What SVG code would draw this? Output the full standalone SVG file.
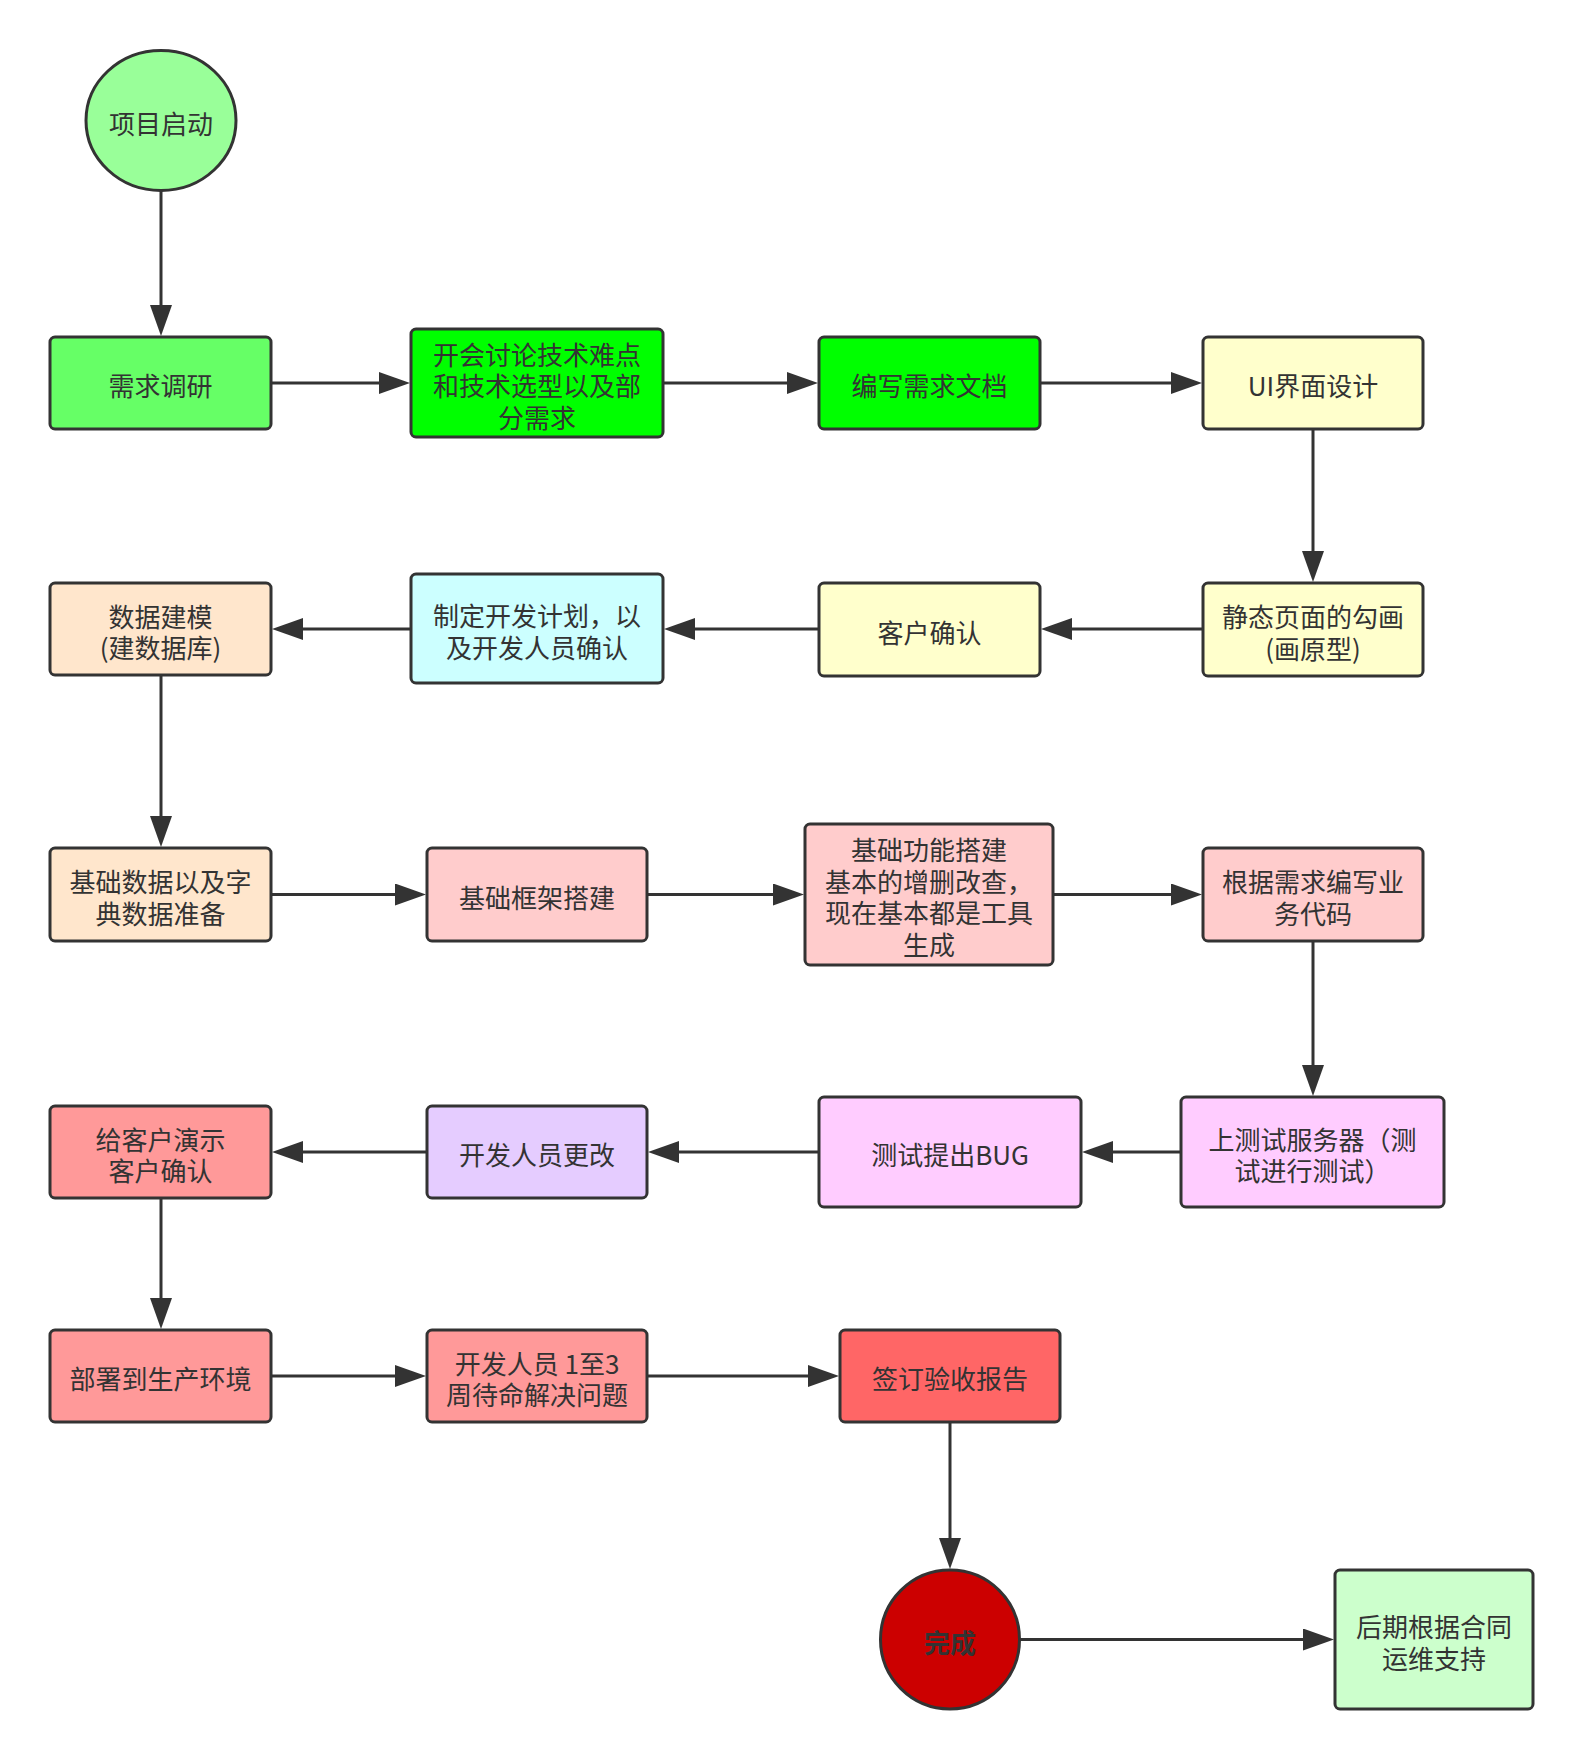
<svg xmlns="http://www.w3.org/2000/svg" width="1584" height="1760" viewBox="0 0 1584 1760">
  <defs>
    <style>
      .node { stroke: #333333; stroke-width: 3; }
      .lbl { font-family: "Noto Sans CJK SC", "Noto Sans", sans-serif; font-size: 26px; fill: #333333; text-anchor: middle; }
      .bold { font-weight: bold; }
      .edge { fill: none; stroke: #333333; stroke-width: 3; marker-end: url(#arrow); }
    </style>
    <marker id="arrow" viewBox="0 0 31 22" refX="21" refY="11" markerWidth="31" markerHeight="22" markerUnits="userSpaceOnUse" orient="auto">
      <path d="M0,0 L31,11 L0,22 Z" fill="#333333"/>
    </marker>
  </defs>
  <rect width="1584" height="1760" fill="#ffffff"/>

  <!-- connectors: path ends sit 10px short of the target edge, the arrow tip reaches it -->
  <g id="connectors">
    <path class="edge" d="M161,191 L161,326"/>
    <path class="edge" d="M272,383 L400,383"/>
    <path class="edge" d="M664,383 L808,383"/>
    <path class="edge" d="M1041,383 L1192,383"/>
    <path class="edge" d="M1313,430 L1313,572"/>
    <path class="edge" d="M1202,629 L1051,629"/>
    <path class="edge" d="M818,629 L674,629"/>
    <path class="edge" d="M410,629 L282,629"/>
    <path class="edge" d="M161,676 L161,837"/>
    <path class="edge" d="M272,894.5 L416,894.5"/>
    <path class="edge" d="M648,894.5 L794,894.5"/>
    <path class="edge" d="M1054,894.5 L1192,894.5"/>
    <path class="edge" d="M1313,942 L1313,1086"/>
    <path class="edge" d="M1180,1152 L1092,1152"/>
    <path class="edge" d="M818,1152 L658,1152"/>
    <path class="edge" d="M426,1152 L282,1152"/>
    <path class="edge" d="M161,1199 L161,1319"/>
    <path class="edge" d="M272,1376 L416,1376"/>
    <path class="edge" d="M648,1376 L829,1376"/>
    <path class="edge" d="M950,1423 L950,1559"/>
    <path class="edge" d="M1020,1639.5 L1324,1639.5"/>
  </g>

  <!-- row 1 -->
  <g id="start">
    <ellipse class="node" cx="161" cy="120.5" rx="75" ry="70" fill="#99FF99"/>
    <text class="lbl" x="161" y="133.5">项目启动</text>
  </g>
  <g id="research">
    <rect class="node" x="50" y="337" width="221" height="92" rx="5" fill="#66FF66"/>
    <text class="lbl" x="160.5" y="396">需求调研</text>
  </g>
  <g id="meeting">
    <rect class="node" x="411" y="329" width="252" height="108" rx="5" fill="#00FF00"/>
    <text class="lbl" x="537" y="364.5">开会讨论技术难点<tspan x="537" dy="31.5">和技术选型以及部</tspan><tspan x="537" dy="31.5">分需求</tspan></text>
  </g>
  <g id="req-doc">
    <rect class="node" x="819" y="337" width="221" height="92" rx="5" fill="#00FF00"/>
    <text class="lbl" x="929.5" y="396">编写需求文档</text>
  </g>
  <g id="ui-design">
    <rect class="node" x="1203" y="337" width="220" height="92" rx="5" fill="#FFFFCC"/>
    <text class="lbl" x="1313" y="396">UI界面设计</text>
  </g>

  <!-- row 2 -->
  <g id="prototype">
    <rect class="node" x="1203" y="583" width="220" height="93" rx="5" fill="#FFFFCC"/>
    <text class="lbl" x="1313" y="627">静态页面的勾画<tspan x="1313" dy="31.5">(画原型)</tspan></text>
  </g>
  <g id="client-confirm">
    <rect class="node" x="819" y="583" width="221" height="93" rx="5" fill="#FFFFCC"/>
    <text class="lbl" x="929.5" y="642.5">客户确认</text>
  </g>
  <g id="dev-plan">
    <rect class="node" x="411" y="574" width="252" height="109" rx="5" fill="#CCFFFF"/>
    <text class="lbl" x="537" y="626">制定开发计划，以<tspan x="537" dy="31.5">及开发人员确认</tspan></text>
  </g>
  <g id="data-model">
    <rect class="node" x="50" y="583" width="221" height="92" rx="5" fill="#FFE6CC"/>
    <text class="lbl" x="160.5" y="626.5">数据建模<tspan x="160.5" dy="31.5">(建数据库)</tspan></text>
  </g>

  <!-- row 3 -->
  <g id="base-data">
    <rect class="node" x="50" y="848" width="221" height="93" rx="5" fill="#FFE6CC"/>
    <text class="lbl" x="160.5" y="892">基础数据以及字<tspan x="160.5" dy="31.5">典数据准备</tspan></text>
  </g>
  <g id="framework">
    <rect class="node" x="427" y="848" width="220" height="93" rx="5" fill="#FFCCCC"/>
    <text class="lbl" x="537" y="907.5">基础框架搭建</text>
  </g>
  <g id="base-features">
    <rect class="node" x="805" y="824" width="248" height="141" rx="5" fill="#FFCCCC"/>
    <text class="lbl" x="929" y="860.25">基础功能搭建<tspan x="929" dy="31.5">基本的增删改查，</tspan><tspan x="929" dy="31.5">现在基本都是工具</tspan><tspan x="929" dy="31.5">生成</tspan></text>
  </g>
  <g id="business-code">
    <rect class="node" x="1203" y="848" width="220" height="93" rx="5" fill="#FFCCCC"/>
    <text class="lbl" x="1313" y="892">根据需求编写业<tspan x="1313" dy="31.5">务代码</tspan></text>
  </g>

  <!-- row 4 -->
  <g id="test-server">
    <rect class="node" x="1181" y="1097" width="263" height="110" rx="5" fill="#FFCCFF"/>
    <text class="lbl" x="1312.5" y="1149.5">上测试服务器（测<tspan x="1312.5" dy="31.5">试进行测试）</tspan></text>
  </g>
  <g id="bug-report">
    <rect class="node" x="819" y="1097" width="262" height="110" rx="5" fill="#FFCCFF"/>
    <text class="lbl" x="950" y="1165">测试提出BUG</text>
  </g>
  <g id="dev-fix">
    <rect class="node" x="427" y="1106" width="220" height="92" rx="5" fill="#E5CCFF"/>
    <text class="lbl" x="537" y="1165">开发人员更改</text>
  </g>
  <g id="demo">
    <rect class="node" x="50" y="1106" width="221" height="92" rx="5" fill="#FF9999"/>
    <text class="lbl" x="160.5" y="1149.5">给客户演示<tspan x="160.5" dy="31.5">客户确认</tspan></text>
  </g>

  <!-- row 5 -->
  <g id="deploy">
    <rect class="node" x="50" y="1330" width="221" height="92" rx="5" fill="#FF9999"/>
    <text class="lbl" x="160.5" y="1389">部署到生产环境</text>
  </g>
  <g id="standby">
    <rect class="node" x="427" y="1330" width="220" height="92" rx="5" fill="#FF9999"/>
    <text class="lbl" x="537" y="1373.5">开发人员 1至3<tspan x="537" dy="31.5">周待命解决问题</tspan></text>
  </g>
  <g id="acceptance">
    <rect class="node" x="840" y="1330" width="220" height="92" rx="5" fill="#FF6666"/>
    <text class="lbl" x="950" y="1389">签订验收报告</text>
  </g>

  <!-- end -->
  <g id="done">
    <circle class="node" cx="950" cy="1639.5" r="69.5" fill="#CC0000"/>
    <text class="lbl bold" x="950" y="1652.5">完成</text>
  </g>
  <g id="maintenance">
    <rect class="node" x="1335" y="1570" width="198" height="139" rx="5" fill="#CCFFCC"/>
    <text class="lbl" x="1434" y="1637">后期根据合同<tspan x="1434" dy="31.5">运维支持</tspan></text>
  </g>
</svg>
